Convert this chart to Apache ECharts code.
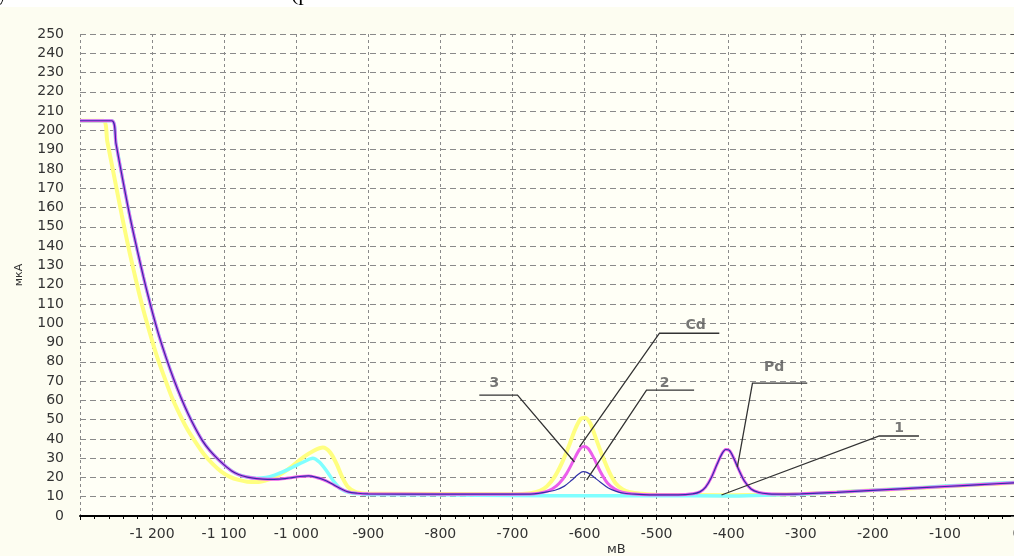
<!DOCTYPE html>
<html>
<head>
<meta charset="utf-8">
<script src="https://cdn.jsdelivr.net/npm/echarts@6/dist/echarts.min.js"></script>
<style>
html,body{margin:0;padding:0;background:#fdfdf1;}
#chart{width:1014px;height:556px;}
</style>
</head>
<body>
<div id="chart"></div>
<script>
// ---- tick settings ----
const xMin = -1300, xMax = 0, xStep = 100;
const yMin = 0, yMax = 250, yStep = 10;

// ---- curves [mV, µA] ----
const curveYellow = [[-1300,205],[-1268,205],[-1262,194],[-1252,175],[-1242,156],[-1232,138],[-1224,125],[-1217,114],[-1210,104],[-1202,93.5],[-1193,82.5],[-1183,72],[-1173,62],[-1162,53],[-1151,45],[-1140,38.5],[-1128,32],[-1116,27],[-1104,23],[-1092,20.3],[-1080,18.7],[-1068,17.8],[-1055,17.6],[-1042,18.5],[-1030,20],[-1018,22.5],[-1005,26],[-990,30.5],[-975,34],[-963,35.5],[-953,33],[-944,27],[-936,20],[-928,15],[-918,12.5],[-905,11.7],[-880,11.5],[-700,11.3],[-675,11.8],[-662,13],[-652,15.5],[-642,20],[-632,27],[-622,36],[-613,45],[-605,50.5],[-599,51],[-592,48],[-584,40],[-575,31],[-566,23],[-557,17],[-547,13.8],[-537,12.3],[-520,11.5],[-500,11],[-400,10.8],[-340,11],[-300,11.4],[-250,12.3],[-200,13.3],[-150,14.3],[-100,15.3],[-50,16.3],[0,17.3]];

const curveCyan = [[-1300,205],[-1256,205],[-1250,193],[-1240,173],[-1230,154],[-1220,137],[-1212,124],[-1205,113.5],[-1198,103.5],[-1190,93],[-1180,81.5],[-1170,71],[-1160,61.5],[-1150,53],[-1140,45.5],[-1130,39],[-1120,34],[-1110,30],[-1100,26.5],[-1090,23.5],[-1080,21.5],[-1068,20.2],[-1055,19.6],[-1042,20],[-1030,21.2],[-1018,23],[-1005,25.3],[-990,28],[-977,30],[-968,28],[-958,23.5],[-948,18],[-938,14],[-926,12.2],[-912,11.5],[-900,11.2],[-800,11],[-700,10.6],[-600,10.5],[-500,10.5],[-400,10.4],[-350,10.8],[-300,11.3],[-250,12.3],[-200,13.4],[-150,14.4],[-100,15.5],[-50,16.5],[0,17.5]];

const curveMagenta = [[-1300,205],[-1256,205],[-1250,193],[-1240,173],[-1230,154],[-1220,137],[-1212,124],[-1205,113.5],[-1198,103.5],[-1190,93],[-1180,81.5],[-1170,71],[-1160,61.5],[-1150,53],[-1140,45.5],[-1130,39],[-1120,34],[-1110,30],[-1100,26.5],[-1090,23.5],[-1080,21.5],[-1068,20.2],[-1055,19.4],[-1040,19],[-1025,19.1],[-1010,19.7],[-995,20.5],[-983,20.8],[-972,20],[-962,18.8],[-952,17],[-940,14.5],[-928,12.5],[-915,11.8],[-900,11.5],[-800,11.3],[-700,11.3],[-670,11.5],[-655,12.5],[-645,14],[-635,17],[-625,22],[-615,29],[-607,34.5],[-601,36],[-595,35],[-587,30],[-578,23],[-568,17],[-558,14],[-548,12.3],[-535,11.5],[-510,11],[-470,11],[-450,11.5],[-440,12.5],[-432,15],[-424,20],[-416,27],[-409,32.5],[-404,34.5],[-399,34],[-393,30],[-386,24],[-378,18],[-369,14],[-358,12.2],[-345,11.5],[-320,11.3],[-300,11.5],[-250,12.3],[-200,13.3],[-150,14.3],[-100,15.3],[-50,16.3],[0,17.3]];

const curveBlue = [[-1300,205],[-1256,205],[-1250,193],[-1240,173],[-1230,154],[-1220,137],[-1212,124],[-1205,113.5],[-1198,103.5],[-1190,93],[-1180,81.5],[-1170,71],[-1160,61.5],[-1150,53],[-1140,45.5],[-1130,39],[-1120,34],[-1110,30],[-1100,26.5],[-1090,23.5],[-1080,21.5],[-1068,20.2],[-1055,19.4],[-1040,19],[-1025,19.1],[-1010,19.7],[-995,20.5],[-983,20.8],[-972,20],[-962,18.8],[-952,17],[-940,14.5],[-928,12.5],[-915,11.8],[-900,11.5],[-800,11.3],[-700,11.3],[-670,11.5],[-655,12.3],[-640,13.5],[-628,15.5],[-618,18.5],[-609,21.5],[-602,23],[-596,22.5],[-588,20.5],[-578,17.5],[-567,14.5],[-556,12.8],[-545,11.8],[-530,11.3],[-510,11],[-470,11],[-450,11.5],[-440,12.5],[-432,15],[-424,20],[-416,27],[-409,32.5],[-404,34.5],[-399,34],[-393,30],[-386,24],[-378,18],[-369,14],[-358,12.2],[-345,11.5],[-320,11.3],[-300,11.5],[-250,12.3],[-200,13.3],[-150,14.3],[-100,15.3],[-50,16.3],[0,17.3]];

// ---- annotation leader lines (data coords) ----
const leader3  = [[-746,62.7],[-693,62.7],[-614,28]];
const leaderCd = [[-413,94.8],[-496,94.8],[-607,35.8]];
const leader2  = [[-448,65.3],[-514,65.3],[-597,18.7]];
const leaderPd = [[-291,68.9],[-367,68.9],[-388,25.4]];
const leader1  = [[-136,41.5],[-191,41.5],[-410,10.9]];

// ---- annotation texts [text, mV, µA] ----
const annoTexts = [['3',-725,69],['Cd',-446,99],['2',-489,69],['Pd',-337,77.2],['1',-163.5,45.6]];

const yAxisName = 'мкА';
const xAxisName = 'мВ';

const chart = echarts.init(document.getElementById('chart'), null, {renderer:'canvas'});

function fmtX(v){
  if (v === xMin) return '';
  const a = Math.abs(v);
  let s = a >= 1000 ? Math.floor(a/1000) + ' ' + String(a%1000).padStart(3,'0') : String(a);
  return (v < 0 ? '-' : '') + s;
}

const lineBase = {type:'line', showSymbol:false, smooth:0.3, animation:false, z:2};

chart.setOption({
  backgroundColor:'#fdfdf1',
  animation:false,
  grid:{left:80, top:34, width:937, bottom:40, outerBoundsMode:'none', containLabel:false, show:true, backgroundColor:'#fffff6', borderWidth:0},
  graphic:[
    {type:'rect', left:0, top:0, shape:{width:1014, height:7}, style:{fill:'#ffffff'}, z:-1},
    {type:'text', left:-3, top:-17, style:{text:'у', font:'22px "Liberation Serif"', fill:'#000'}},
    {type:'text', left:291, top:-17, style:{text:'(р', font:'22px "Liberation Serif"', fill:'#000'}},
    {type:'text', left:607, top:543, style:{text:xAxisName, font:'13px "DejaVu Sans"', fill:'#333'}}
  ],
  xAxis:{
    type:'value', min:xMin, max:xMax, interval:xStep,
    axisLine:{show:true, onZero:false, lineStyle:{color:'#000', width:2}},
    axisTick:{show:true, length:4, lineStyle:{color:'#000'}},
    minorTick:{show:true, splitNumber:5, length:3, lineStyle:{color:'#000'}},
    axisLabel:{formatter:fmtX, color:'#333', fontFamily:'DejaVu Sans', fontSize:14, margin:11, showMaxLabel:true, hideOverlap:false},
    splitLine:{show:true, lineStyle:{color:'#8a8a8a', type:[3,3], width:1}}
  },
  yAxis:{
    type:'value', min:yMin, max:yMax, interval:yStep,
    name:yAxisName, nameLocation:'middle', nameGap:55, nameRotate:90,
    nameTextStyle:{color:'#333', fontFamily:'DejaVu Sans', fontSize:11},
    axisLine:{show:true, lineStyle:{color:'#000', width:3}},
    axisTick:{show:true, length:6, lineStyle:{color:'#555'}},
    axisLabel:{color:'#333', fontFamily:'DejaVu Sans', fontSize:14, margin:16},
    splitLine:{show:true, lineStyle:{color:'#8a8a8a', type:[6,4], width:1}}
  },
  series:[
    Object.assign({}, lineBase, {name:'yellow', data:curveYellow, lineStyle:{color:'#ffff80', width:4}}),
    Object.assign({}, lineBase, {name:'cyan', data:curveCyan, lineStyle:{color:'#80ffff', width:3.5}}),
    Object.assign({}, lineBase, {name:'magenta', data:curveMagenta, lineStyle:{color:'#ec5eec', width:3}}),
    Object.assign({}, lineBase, {name:'blue', data:curveBlue, lineStyle:{color:'#3030a8', width:1.2}}),
    {
      type:'lines', coordinateSystem:'cartesian2d', polyline:true, animation:false, z:5,
      lineStyle:{color:'#333', width:1.3, opacity:1},
      data:[{coords:leader3},{coords:leaderCd},{coords:leader2},{coords:leaderPd},{coords:leader1}]
    },
    {
      type:'scatter', symbolSize:0, animation:false, z:6,
      data:annoTexts.map(a => ({name:a[0], value:[a[1], a[2]]})),
      label:{show:true, position:'inside', formatter:p => p.name, color:'#555', fontFamily:'DejaVu Sans', fontWeight:'bold', fontSize:14}
    }
  ]
});
</script>
</body>
</html>
